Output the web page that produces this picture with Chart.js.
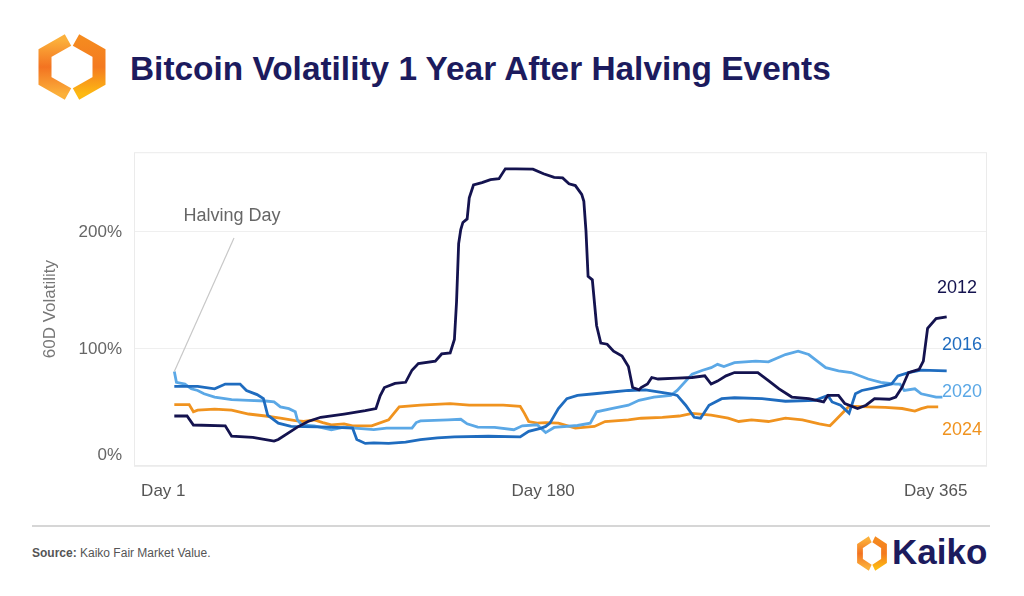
<!DOCTYPE html>
<html>
<head>
<meta charset="utf-8">
<script src="https://cdn.jsdelivr.net/npm/chart.js@4"></script>
<style>
  html, body { margin: 0; padding: 0; background: #fff; }
  body { width: 1024px; height: 596px; position: relative; overflow: hidden; font-family: "Liberation Sans", Arial, sans-serif; }
  #title { position: absolute; left: 130px; top: 50px; font-size: 33.4px; font-weight: bold; color: #1c1b5e; white-space: nowrap; }
  #logo { position: absolute; left: 36px; top: 32px; }
  #chartBox { position: absolute; left: 0; top: 130px; width: 1024px; height: 380px; }
  #rule { position: absolute; left: 32px; top: 525px; width: 958px; height: 2px; background: #d6d6d6; }
  #source { position: absolute; left: 32px; top: 546px; font-size: 12px; color: #555; }
  #smallLogo { position: absolute; left: 856px; top: 535px; }
  #brand { position: absolute; left: 892px; top: 532px; font-size: 35px; font-weight: bold; color: #1c1b5e; }
</style>
</head>
<body>
<svg id="logo" width="72" height="70" viewBox="0 0 72 70">
  <defs>
    <linearGradient id="gl" x1="0" y1="0" x2="0" y2="1">
      <stop offset="0" stop-color="#fbb03b"/>
      <stop offset="0.5" stop-color="#f37321"/>
      <stop offset="1" stop-color="#fbb03b"/>
    </linearGradient>
    <linearGradient id="gr" x1="0" y1="0" x2="0" y2="1">
      <stop offset="0" stop-color="#f58a1f"/>
      <stop offset="0.5" stop-color="#f47a20"/>
      <stop offset="1" stop-color="#fdb913"/>
    </linearGradient>
  </defs>
  <path d="M32 8 L9 21 L9 49 L32 62" fill="none" stroke="url(#gl)" stroke-width="13" stroke-linejoin="miter"/>
  <path d="M40 8 L63 21 L63 49 L40 62" fill="none" stroke="url(#gr)" stroke-width="13" stroke-linejoin="miter"/>
</svg>
<div id="title">Bitcoin Volatility 1 Year After Halving Events</div>
<div id="chartBox"><canvas id="chart" width="1024" height="380"></canvas></div>
<div id="rule"></div>
<div id="source"><b>Source:</b> Kaiko Fair Market Value.</div>
<svg id="smallLogo" width="32" height="37" viewBox="0 0 72 70" preserveAspectRatio="none">
  <path d="M32 8 L9 21 L9 49 L32 62" fill="none" stroke="url(#gl)" stroke-width="13"/>
  <path d="M40 8 L63 21 L63 49 L40 62" fill="none" stroke="url(#gr)" stroke-width="13"/>
</svg>
<div id="brand">Kaiko</div>
<script>
const seriesNames = ['2012', '2016', '2020', '2024'];
const seriesColors = ['#14134f', '#1f6cbf', '#5ba8e6', '#f0931f'];

const days2012 = [1, 7, 10, 25, 28, 38, 48, 50, 59, 64, 70, 81, 91, 96, 98, 100, 105, 110, 113, 116, 124, 127, 131, 133, 134, 135, 136, 137, 139, 140, 142, 146, 150, 154, 157, 162, 170, 175, 180, 184, 187, 190, 193, 194, 195, 196, 198, 200, 202, 205, 208, 212, 215, 217, 220, 221, 224, 226, 229, 238, 245, 251, 254, 257, 261, 265, 276, 281, 286, 292, 300, 307, 309, 314, 317, 323, 327, 331, 338, 341, 344, 347, 352, 354, 356, 360, 365];
const vol2012 = [42.7, 42.7, 35, 34.3, 25.4, 24.5, 21.2, 22.6, 33.2, 38, 41.6, 44.4, 47.2, 49, 60, 67, 70.6, 71.5, 81.8, 87.5, 89.6, 95.7, 96.6, 108, 140, 190, 202, 208, 211, 229, 240, 242, 244.6, 245.4, 253.8, 253.8, 253.5, 249.6, 246.5, 246, 241, 239.5, 232, 226, 201, 162, 159, 120, 105, 104, 98, 94, 85, 67, 65, 67, 70, 75.6, 74.3, 75, 75.6, 77, 70, 72.5, 77, 79.8, 79.8, 72.9, 65.9, 58.9, 57.5, 54.7, 60.3, 60.3, 53.3, 49.1, 51.9, 57.5, 57, 58.9, 67.3, 79.8, 82.6, 89.6, 117.5, 125.9, 127.3];

const days2016 = [1, 12, 20, 25, 32, 35, 40, 43, 45, 50, 56, 75, 85, 87, 91, 95, 102, 110, 117, 125, 133, 149, 164, 168, 174, 176, 178, 182, 186, 191, 199, 215, 223, 235, 238, 242, 246, 249, 253, 259, 265, 278, 289, 303, 309, 311, 315, 319, 322, 325, 331, 339, 342, 347, 353, 365];
const vol2016 = [68, 68, 65.9, 70, 70, 64.5, 61, 57.5, 43.5, 36.6, 33.8, 33.2, 32.4, 22.6, 19.3, 19.8, 19.3, 20.4, 22.6, 24, 24.8, 25.4, 24.8, 29.6, 32.4, 33.8, 36.6, 49.1, 57.5, 60.3, 61.7, 64.5, 65, 61.7, 60.3, 51.9, 41.6, 40.8, 51.9, 57.5, 58.3, 57.5, 55.3, 56.1, 60.3, 54.7, 51.9, 45, 61.7, 64.5, 66.8, 70, 77, 79.8, 81.8, 81.2];

const days2020 = [1, 2, 6, 9, 12, 15, 20, 28, 36, 44, 48, 51, 55, 58, 59, 61, 67, 75, 81, 86, 95, 101, 113, 115, 117, 130, 136, 139, 144, 152, 161, 165, 172, 176, 180, 191, 197, 200, 207, 215, 220, 227, 235, 238, 245, 250, 254, 257, 260, 265, 275, 281, 289, 295, 300, 304, 308, 314, 320, 328, 334, 341, 343, 345, 350, 353, 360, 363];
const vol2020 = [80.7, 71.5, 70, 65.9, 64.5, 61.7, 58.9, 56.7, 56, 55.5, 54.7, 50.5, 49, 46.3, 39.4, 35.2, 34.3, 31, 33.2, 32.4, 31, 32.4, 32.4, 37.1, 38.5, 39.4, 39.9, 36, 33.2, 33, 31, 34.3, 35.2, 28.5, 32.9, 34.6, 36.6, 46.3, 49.1, 51.9, 56.1, 58.9, 60.3, 64.5, 78.5, 81.8, 84, 86.8, 85, 88.2, 89.6, 89, 95.2, 98, 95.2, 89.6, 84, 81.2, 79.8, 74.3, 71.5, 70, 70, 64.5, 65.9, 61.7, 58.9, 58.9];

const days2024 = [1, 8, 10, 12, 20, 28, 36, 44, 51, 58, 62, 67, 71, 75, 81, 85, 94, 102, 107, 117, 131, 140, 156, 164, 166, 168, 172, 176, 182, 190, 199, 204, 215, 221, 231, 239, 245, 254, 262, 267, 273, 281, 289, 297, 305, 310, 312, 319, 328, 336, 344, 350, 353, 356, 361];
const vol2024 = [52.5, 52.5, 46.3, 47.7, 48.6, 47.7, 44.4, 42.7, 40.8, 38.8, 38, 39.4, 37.1, 35.2, 36, 34.3, 34.3, 39.4, 50.5, 52, 53.3, 52, 52, 51, 45, 38, 36.6, 37.1, 36.6, 32.4, 33.8, 38, 39.4, 40.8, 41.6, 42.7, 45, 43.5, 40.8, 38, 39.4, 38, 40.8, 39.4, 36, 34.3, 38, 51.1, 50.5, 50, 49.1, 46.9, 49, 50.5, 50.5];

const xTickDays = [1, 180, 365];
const yTickValues = [0, 100, 200];

const seriesDays = [days2012, days2016, days2020, days2024];
const seriesValues = [vol2012, vol2016, vol2020, vol2024];

const FONT = '"Liberation Sans", Arial, sans-serif';

const decor = {
  id: 'decor',
  beforeDatasetsDraw(chart) {
    const { ctx, chartArea } = chart;
    ctx.save();
    ctx.strokeStyle = '#ebebeb';
    ctx.lineWidth = 1;
    ctx.strokeRect(chartArea.left + 0.5, chartArea.top + 0.5, chartArea.width - 1, chartArea.height - 1);
    ctx.restore();
  },
  afterDatasetsDraw(chart) {
    const { ctx, scales } = chart;
    const x = scales.x;
    const y = scales.y;
    ctx.save();

    // halving day pointer
    ctx.strokeStyle = '#c8c8c8';
    ctx.lineWidth = 1.2;
    ctx.beginPath();
    ctx.moveTo(x.getPixelForValue(days2020[0]), y.getPixelForValue(vol2020[0]));
    ctx.lineTo(234, 108);
    ctx.stroke();
    ctx.fillStyle = '#666';
    ctx.font = '18px ' + FONT;
    ctx.textAlign = 'center';
    ctx.textBaseline = 'middle';
    ctx.fillText('Halving Day', 232, 86);

    // series labels at right
    const labelSpots = [[937, 151.8], [942, 103.4], [942, 62.9], [942, 30.6]];
    ctx.textAlign = 'left';
    seriesNames.forEach((name, i) => {
      ctx.fillStyle = seriesColors[i];
      ctx.fillText(name, labelSpots[i][0], y.getPixelForValue(labelSpots[i][1]));
    });
    ctx.restore();
  }
};

new Chart(document.getElementById('chart'), {
  type: 'line',
  data: {
    datasets: seriesNames.map((name, i) => ({
      label: name,
      data: seriesDays[i].map((d, j) => ({ x: d, y: seriesValues[i][j] })),
      borderColor: seriesColors[i],
      borderWidth: 2.8,
      pointRadius: 0,
      tension: 0,
      fill: false
    }))
  },
  options: {
    responsive: false,
    animation: false,
    events: [],
    layout: { padding: { left: 40, right: 37, top: 16, bottom: 0 } },
    plugins: {
      legend: { display: false },
      tooltip: { enabled: false }
    },
    scales: {
      x: {
        type: 'linear',
        min: -18,
        max: 384,
        afterFit(scale) { scale.height = 44; },
        afterBuildTicks(scale) { scale.ticks = xTickDays.map((v) => ({ value: v })); },
        grid: { display: false, drawTicks: false },
        border: { display: false },
        ticks: {
          autoSkip: false,
          maxRotation: 0,
          padding: 15,
          labelOffset: -11,
          color: '#555',
          font: { family: FONT, size: 17 },
          callback: (v) => 'Day ' + v
        }
      },
      y: {
        min: 0,
        max: 268,
        afterFit(scale) { scale.width = 94; },
        afterBuildTicks(scale) { scale.ticks = yTickValues.map((v) => ({ value: v })); },
        grid: { color: '#efefef', lineWidth: 1, drawTicks: false },
        border: { display: false },
        title: {
          display: true,
          text: '60D Volatility',
          color: '#777',
          font: { family: FONT, size: 17 },
          padding: { top: 0, bottom: 0 }
        },
        ticks: {
          padding: 12,
          color: '#666',
          font: { family: FONT, size: 17 },
          // the bottom label sits a little above the axis floor
          callback: (v) => (v === 0 ? ['0%', ''] : v + '%')
        }
      }
    }
  },
  plugins: [decor]
});
</script>
</body>
</html>
